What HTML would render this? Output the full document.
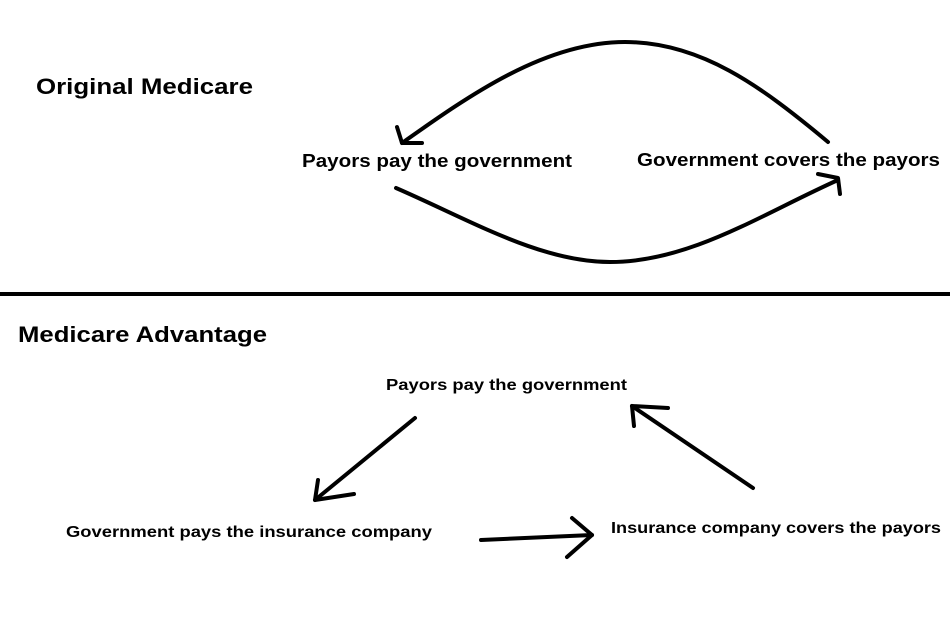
<!DOCTYPE html>
<html><head><style>body{margin:0;background:#fff}svg{display:block}</style></head>
<body>
<svg width="950" height="634" xmlns="http://www.w3.org/2000/svg" font-family="Liberation Sans, sans-serif" font-weight="bold">
<rect width="950" height="634" fill="#fff"/>
<g fill="#000">
<text x="36" y="94" font-size="22" textLength="217" lengthAdjust="spacingAndGlyphs">Original Medicare</text>
<text x="302" y="167" font-size="18" textLength="270" lengthAdjust="spacingAndGlyphs">Payors pay the government</text>
<text x="637" y="166" font-size="18" textLength="303" lengthAdjust="spacingAndGlyphs">Government covers the payors</text>
<text x="18" y="342" font-size="22" textLength="249" lengthAdjust="spacingAndGlyphs">Medicare Advantage</text>
<text x="386" y="390" font-size="16" textLength="241" lengthAdjust="spacingAndGlyphs">Payors pay the government</text>
<text x="66" y="537" font-size="16" textLength="366" lengthAdjust="spacingAndGlyphs">Government pays the insurance company</text>
<text x="611" y="533" font-size="16" textLength="330" lengthAdjust="spacingAndGlyphs">Insurance company covers the payors</text>
</g>
<rect x="0" y="292" width="950" height="4" fill="#000"/>
<g fill="none" stroke="#000" stroke-width="4" stroke-linecap="round" stroke-linejoin="round">
<path d="M828 142 C760 85 700 42 625 42 C545 42 470 95 402 143"/>
<path d="M397 127 L402 143 L422 143"/>
<path d="M396 188 C470 220 540 262 610 262 C690 262 760 215 838 180"/>
<path d="M818 174 L838 178 L840 194"/>
<path d="M415 418 L315 500"/>
<path d="M318 480 L315 500 L354 494"/>
<path d="M753 488 L632 406"/>
<path d="M634 426 L632 406 L668 408"/>
<path d="M481 540 L592 535"/>
<path d="M572 518 L592 535 L567 557"/>
</g>
</svg>
</body></html>
